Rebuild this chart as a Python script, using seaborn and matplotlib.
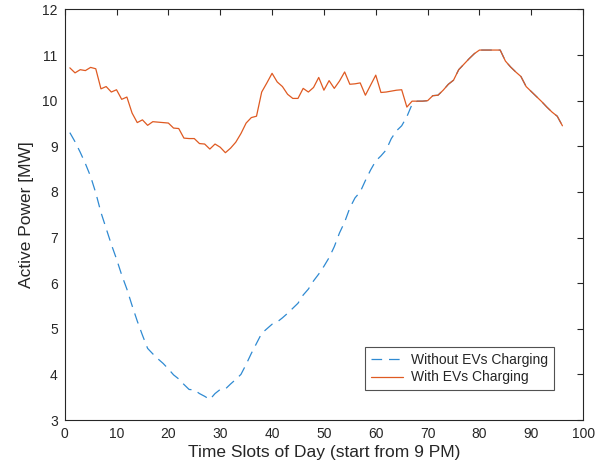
import numpy as np
import pandas as pd
import matplotlib
matplotlib.use("Agg")
import matplotlib.pyplot as plt
import seaborn as sns

# time slots 1..96 (15 min each, starting 9 PM)
slots = list(range(1, 97))

# active power with EV charging [MW]
with_ev = [10.72, 10.61, 10.68, 10.66, 10.73, 10.70, 10.26, 10.31, 10.19, 10.24,
           10.03, 10.08, 9.73, 9.52, 9.58, 9.46, 9.54, 9.53, 9.52, 9.51,
           9.40, 9.39, 9.18, 9.17, 9.17, 9.06, 9.05, 8.94, 9.05, 8.98,
           8.86, 8.96, 9.09, 9.28, 9.51, 9.63, 9.66, 10.19, 10.39, 10.60,
           10.41, 10.31, 10.14, 10.05, 10.05, 10.27, 10.19, 10.29, 10.51, 10.23,
           10.44, 10.27, 10.43, 10.63, 10.36, 10.37, 10.39, 10.12, 10.34, 10.56,
           10.18, 10.19, 10.21, 10.23, 10.24, 9.86, 9.99, 9.99, 9.99, 10.00,
           10.11, 10.12, 10.23, 10.36, 10.45, 10.68, 10.80, 10.92, 11.03, 11.11,
           11.11, 11.11, 11.11, 11.11, 10.87, 10.74, 10.63, 10.53, 10.31, 10.20,
           10.09, 9.98, 9.86, 9.75, 9.66, 9.45]

# active power without EV charging [MW]
without_ev = [9.30, 9.10, 8.87, 8.62, 8.34, 7.98, 7.55, 7.20, 6.85, 6.53,
              6.18, 5.87, 5.51, 5.17, 4.86, 4.57, 4.45, 4.34, 4.24, 4.12,
              3.99, 3.90, 3.78, 3.67, 3.66, 3.58, 3.52, 3.45, 3.58, 3.67,
              3.68, 3.79, 3.89, 4.00, 4.22, 4.46, 4.68, 4.90, 5.00, 5.10,
              5.15, 5.24, 5.34, 5.45, 5.56, 5.74, 5.87, 6.05, 6.20, 6.37,
              6.56, 6.80, 7.10, 7.34, 7.65, 7.87, 8.00, 8.25, 8.48, 8.68,
              8.79, 8.92, 9.17, 9.34, 9.45, 9.65, 9.92, 9.99, 9.99, 10.00,
              10.11, 10.12, 10.23, 10.36, 10.45, 10.68, 10.80, 10.92, 11.03, 11.11,
              11.11, 11.11, 11.11, 11.11, 10.87, 10.74, 10.63, 10.53, 10.31, 10.20,
              10.09, 9.98, 9.86, 9.75, 9.66, 9.45]

sns.set_style("white")
plt.rcParams['font.family'] = ['Liberation Sans', 'DejaVu Sans']

fig = plt.figure(figsize=(6.1, 4.73), dpi=100)
ax = fig.add_axes([0.106, 0.112, 0.850, 0.868])

sns.lineplot(x=slots, y=without_ev, ax=ax, color='#2F8AD2', linewidth=0.9,
             linestyle='--', label='Without EVs Charging')
ax.lines[-1].set_dashes((8.5, 5.5))
sns.lineplot(x=slots, y=with_ev, ax=ax, color='#DF5A22', linewidth=0.9,
             label='With EVs Charging')

ax.set_xlim(0, 100)
ax.set_ylim(3, 12)
ax.set_xticks(np.arange(0, 101, 10))
ax.set_yticks(np.arange(3, 13, 1))
ax.tick_params(direction='in', length=4, width=0.8, top=True, right=True,
               labelsize=10, colors='#262626', pad=5)
for s in ax.spines.values():
    s.set_visible(True)
    s.set_color('#262626')
    s.set_linewidth(0.8)

ax.set_xlabel('Time Slots of Day (start from 9 PM)', fontsize=12.5, color='#262626', labelpad=3)
ax.set_ylabel('Active Power [MW]', fontsize=12.5, color='#262626', labelpad=6)

leg = ax.legend(loc='lower right', bbox_to_anchor=(0.9435, 0.073), fontsize=10,
                frameon=True, fancybox=False, handlelength=2.3, borderpad=0.4,
                labelspacing=0.25, handletextpad=0.6, borderaxespad=0)
leg.get_frame().set_edgecolor('#262626')
leg.get_frame().set_linewidth(0.8)

fig.savefig('out.png', dpi=100)
